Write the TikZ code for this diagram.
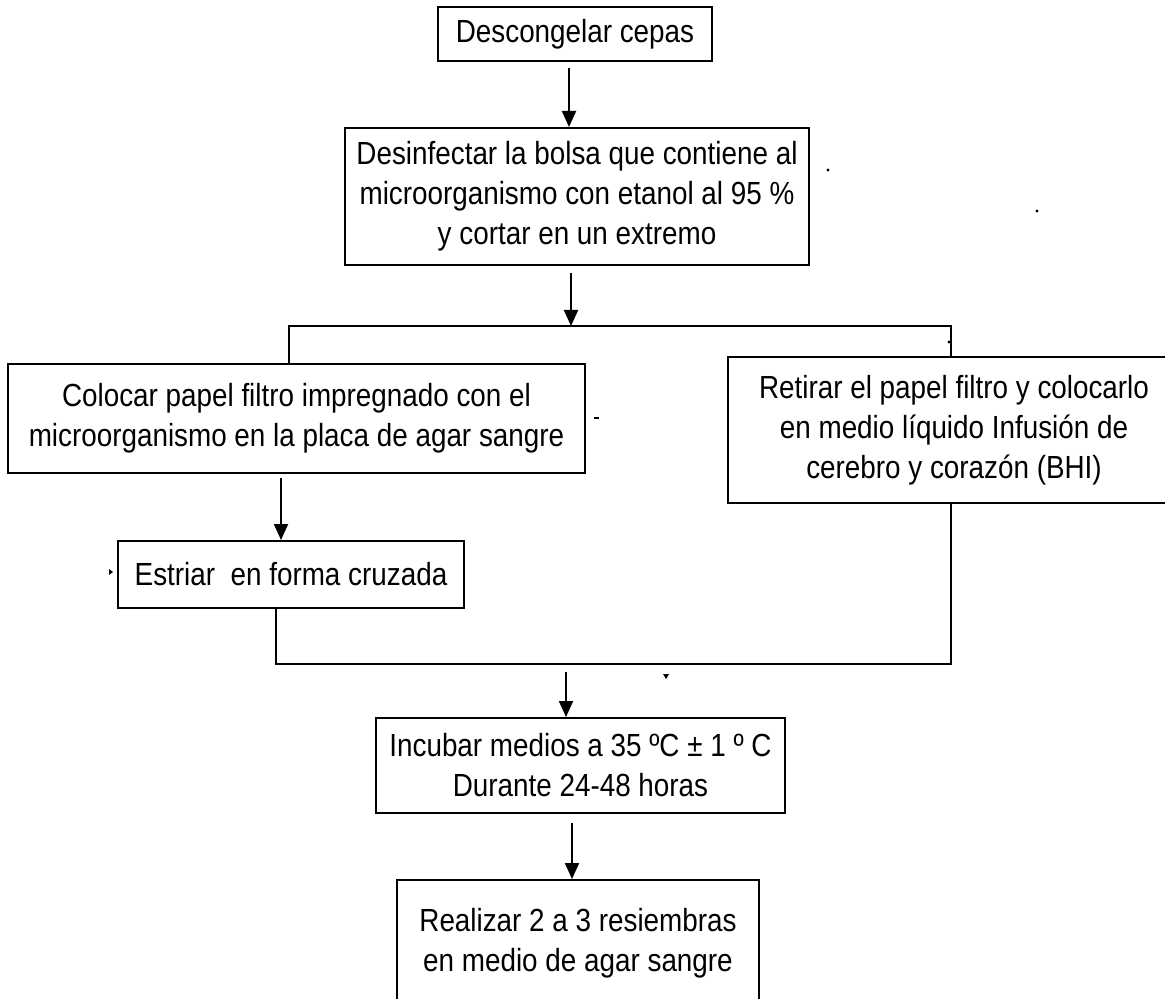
\documentclass[tikz,border=0pt]{standalone}
\usepackage{fontspec}
\setmainfont{Liberation Sans}[FakeStretch=0.87]
\usetikzlibrary{arrows.meta}

\tikzset{
  stepbox/.style={draw, line width=1pt, rectangle, inner sep=0pt, align=center,
    font=\fontsize{16pt}{20pt}\selectfont},
  link/.style={line width=1pt},
  arr/.style={line width=1pt, -{Triangle[length=8pt,width=7pt]}},
  speck/.style={fill=black}
}

\begin{document}
\begin{tikzpicture}[x=0.5pt, y=-0.5pt]
  \useasboundingbox (0,0) rectangle (1165,999);
  \clip (0,0) rectangle (1165,999);

  % process steps
  \node[stepbox, minimum width=137pt, minimum height=27pt] (b1) at (575,34)
    {Descongelar cepas};
  \node[stepbox, minimum width=232pt, minimum height=68.5pt] (b2) at (577,196.5)
    {Desinfectar la bolsa que contiene al\\microorganismo con etanol al 95 \%\\y cortar en un extremo};
  \node[stepbox, minimum width=288.5pt, minimum height=54.5pt] (b3) at (296.5,418.5)
    {Colocar papel filtro impregnado con el\\microorganismo en la placa de agar sangre};
  \node[stepbox, minimum width=226pt, minimum height=73pt] (b4) at (954,430)
    {Retirar el papel filtro y colocarlo\\en medio líquido Infusión de\\cerebro y corazón (BHI)};
  \node[stepbox, minimum width=173pt, minimum height=33.5pt] (b5) at (291,574.5)
    {Estriar\ \ en forma cruzada};
  \node[stepbox, minimum width=204.5pt, minimum height=47.5pt] (b6) at (580.5,765.5)
    {Incubar medios a 35 ºC ± 1 º C\\Durante 24-48 horas};
  \node[stepbox, minimum width=181pt, minimum height=63pt] (b7) at (578,943)
    {Realizar 2 a 3 resiembras\\en medio de agar sangre};

  % branch and join points
  \coordinate (sp)  at (571,326);
  \coordinate (spL) at (289,326);
  \coordinate (spR) at (951,326);
  \coordinate (ka)  at (281,500);
  \coordinate (jnL) at (276,664);
  \coordinate (jnR) at (951,664);
  \coordinate (jn)  at (566,664);
  \coordinate (kb)  at (572,850);

  % connectors
  \draw[arr] ([xshift=-3pt,yshift=-3pt]b1.south) -- ([xshift=-3pt]b1.south |- b2.north);
  \draw[arr] ([yshift=-3.5pt]b2.south -| sp) -- (sp);
  \draw[link] (b3.north -| spL) -- (spL) -- (spR) -- (b4.north -| spR);
  \draw[arr] ([yshift=-2pt]b3.south -| ka) -- (b5.north -| ka);
  \draw[link] (b5.south -| jnL) -- (jnL) -- (jnR) -- (b4.south -| jnR);
  \draw[arr] ([yshift=-4pt]jn) -- (b6.north -| jn);
  \draw[arr] ([yshift=-4.5pt]b6.south -| kb) -- (b7.north -| kb);

  % stray specks
  \fill[speck] (828,170) circle (0.8pt);
  \fill[speck] (1037,211) circle (0.8pt);
  \fill[speck] (949,342) circle (0.8pt);
  \fill[speck] (109,569) -- (113,572) -- (109,575) -- cycle;
  \fill[speck] (663,674) -- (669,674) -- (666,679) -- cycle;
  \draw[line width=0.8pt] (594,418) -- (599,418);
\end{tikzpicture}
\end{document}
